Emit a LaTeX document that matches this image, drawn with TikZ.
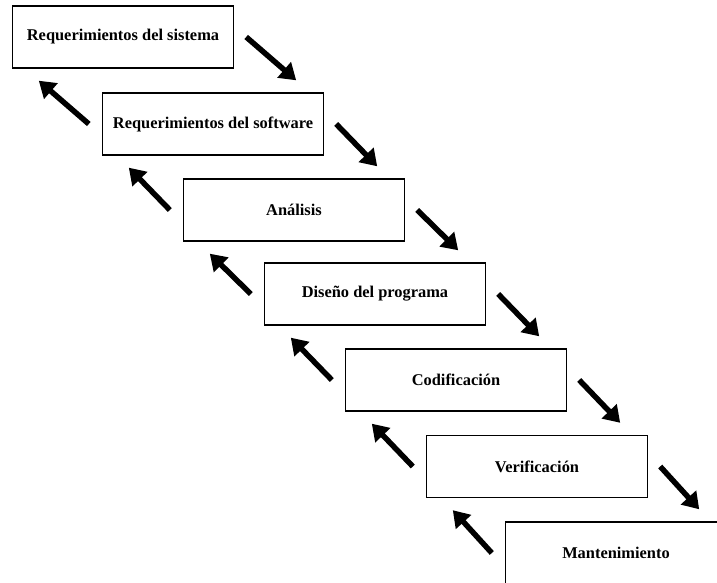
\documentclass[tikz,border=0pt]{standalone}
\usepackage{fontspec}
\setmainfont{Liberation Serif}
\usetikzlibrary{arrows.meta}

\begin{document}
\begin{tikzpicture}[x=1pt,y=1pt,
        etapa/.style={draw, line width=1.4pt, minimum width=221pt, minimum height=62pt,
            inner sep=0pt, font=\fontsize{16.4}{19}\selectfont\bfseries},
        baja/.style={line width=5.5pt, -{Triangle[length=16pt,width=20pt]}},
        sube/.style={line width=5.5pt, -{Triangle[length=16pt,width=20pt]}}]
            \useasboundingbox (0,0) rectangle (717,583);
            \clip (0,0) rectangle (717,583);

            % etapas
            \node[etapa] (sistema) at (123,546) {Requerimientos del sistema};
            \node[etapa] (software) at (213,459) {Requerimientos del software};
            \node[etapa] (analisis) at (294,373) {Análisis};
            \node[etapa] (diseno) at (375,289) {Diseño del programa};
            \node[etapa] (codif) at (456,203) {Codificación};
            \node[etapa] (verif) at (537,116.5) {Verificación};
            \node[etapa] (mant) at (616,30) {Mantenimiento};

            % hacia abajo
            \draw[baja] ([xshift=12pt]sistema.east) -- ([xshift=-28pt,yshift=12pt]software.north east);
            \draw[baja] ([xshift=12pt]software.east) -- ([xshift=-28pt,yshift=12pt]analisis.north east);
            \draw[baja] ([xshift=12pt]analisis.east) -- ([xshift=-28pt,yshift=12pt]diseno.north east);
            \draw[baja] ([xshift=12pt]diseno.east) -- ([xshift=-28pt,yshift=12pt]codif.north east);
            \draw[baja] ([xshift=12pt]codif.east) -- ([xshift=-28pt,yshift=12pt]verif.north east);
            \draw[baja] ([xshift=12pt]verif.east) -- ([xshift=-28pt,yshift=12pt]mant.north east);

            % hacia arriba
            \draw[sube] ([xshift=-13pt]software.west) -- ([xshift=27pt,yshift=-12pt]sistema.south west);
            \draw[sube] ([xshift=-13pt]analisis.west) -- ([xshift=27pt,yshift=-12pt]software.south west);
            \draw[sube] ([xshift=-13pt]diseno.west) -- ([xshift=27pt,yshift=-12pt]analisis.south west);
            \draw[sube] ([xshift=-13pt]codif.west) -- ([xshift=27pt,yshift=-12pt]diseno.south west);
            \draw[sube] ([xshift=-13pt]verif.west) -- ([xshift=27pt,yshift=-12pt]codif.south west);
            \draw[sube] ([xshift=-13pt]mant.west) -- ([xshift=27pt,yshift=-12pt]verif.south west);

        \end{tikzpicture}
\end{document}
